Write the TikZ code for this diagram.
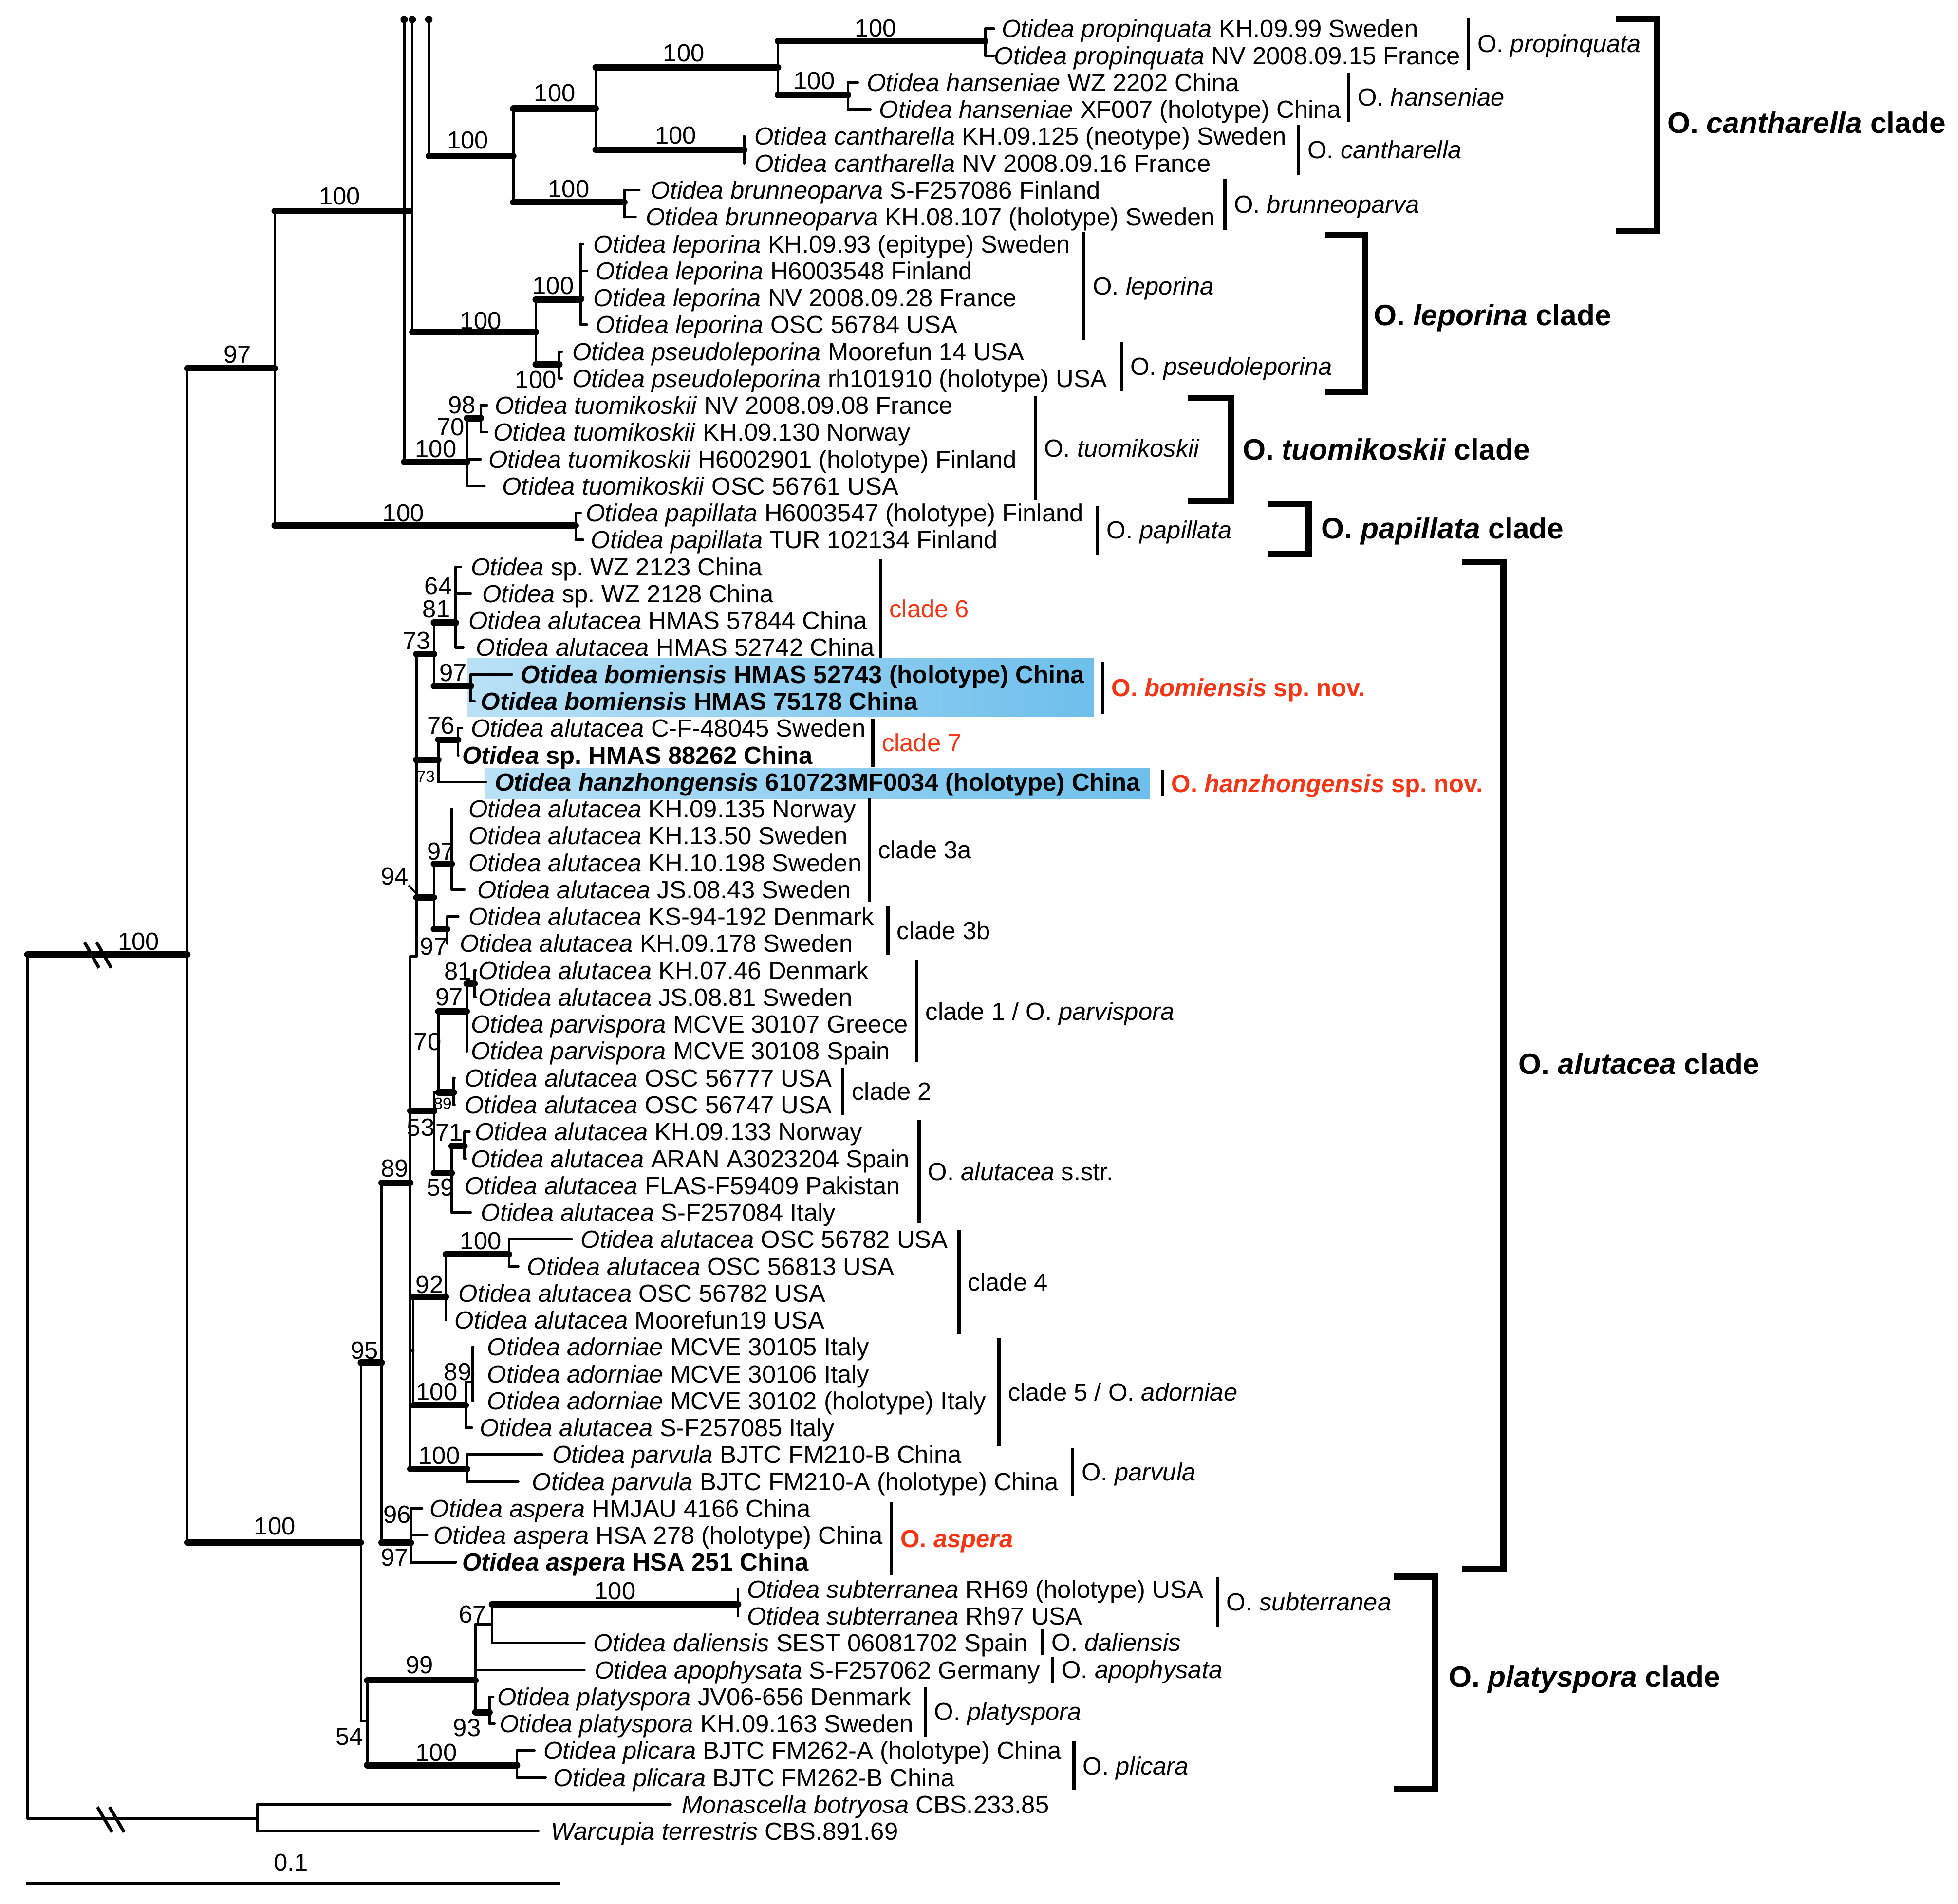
\documentclass[tikz,border=0pt]{standalone}
\usepackage{fontspec}
\setmainfont{Liberation Sans}
\usetikzlibrary{arrows.meta}
\definecolor{cred}{RGB}{248,52,18}
\definecolor{boxL}{RGB}{186,225,246}
\definecolor{boxR}{RGB}{110,191,236}
\newcommand\fs{\fontsize{19.8}{22}\selectfont}
\newcommand\fsb{\fontsize{23.6}{26}\selectfont}
\newcommand\fss{\fontsize{13}{15}\selectfont}
\newcommand\Ot[1]{\textit{Otidea #1}}
\newcommand\yy[1]{23+(#1-1)*21.55}
\newcommand\mkleaf[4]{\coordinate (L#1) at (#2,{\yy{#1}});
  \node[leaflab] (t#1) at (#3,{\yy{#1}+7}) {#4};}
\newcommand\edge[3][tb]{\draw[tb] (#2) -- (#2 |- #3); \draw[#1] (#2 |- #3) -- (#3);}
\newcommand\spbar[5]{\draw[sbar] (#1,#2) -- (#1,#3);
  \node[splab] (#4) at ({#1+7},{(#2+#3)/2+7}) {#5};}
\newcommand\cbr[8]{\draw[brk] (#1,#3) -- (#2,#3) -- (#2,#4) -- (#1,#4);
  \node[cladelab] (#5) at (#6,{#7+8.5}) {#8};}
\begin{document}
\frenchspacing
\begin{tikzpicture}[x=1pt,y=-1pt,
  tb/.style={line width=2pt, line cap=round},
  tk/.style={line width=5.2pt, line cap=round},
  sbar/.style={line width=2.6pt},
  brk/.style={line width=5pt, line join=miter},
  slash/.style={line width=2.6pt},
  leaflab/.style={anchor=base west, inner sep=0pt, font=\fs},
  supp/.style={anchor=center, inner sep=0pt, font=\fs},
  supps/.style={anchor=center, inner sep=0pt, font=\fss},
  splab/.style={anchor=base west, inner sep=0pt, font=\fs},
  cladelab/.style={anchor=base west, inner sep=0pt, font=\fsb\bfseries}]
\fill[white] (0,0) rectangle (1568,1525);
\useasboundingbox (0,0) rectangle (1568,1525);

% highlight boxes
\shade[left color=boxL, right color=boxR] (374,527) rectangle (876,574);
\shade[left color=boxL, right color=boxR] (388,615) rectangle (921,640);

% internal nodes
\coordinate (R) at (22,764.6);
\coordinate (ING) at (150,764.6);
\coordinate (OUT) at (206,1456.5);
\coordinate (A) at (220,295);
\coordinate (B) at (289,1235.5);
\coordinate (C) at (328,169);
\coordinate (Ca) at (323.7,15.6);
\coordinate (Cb) at (330.2,15.6);
\coordinate (Cc) at (343.4,15.6);
\coordinate (PAP) at (461,421);
\coordinate (CN1) at (411,125);
\coordinate (CN2) at (477,87);
\coordinate (CN3) at (623,54);
\coordinate (PRO) at (789,33);
\coordinate (HAN) at (679,76);
\coordinate (CAN) at (596,120);
\coordinate (BRU) at (500,162);
\coordinate (LEP) at (429,266);
\coordinate (LEPa) at (465,240);
\coordinate (PSE) at (448,292);
\coordinate (TUO) at (374,370);
\coordinate (T98) at (385,335);
\coordinate (N95) at (305.6,1091.5);
\coordinate (N54) at (294,1378.5);
\coordinate (BIG) at (328.6,947.5);
\coordinate (ASP) at (329,1235.7);
\coordinate (U) at (333.5,766);
\coordinate (N53) at (347.5,889.9);
\coordinate (N45) at (331,1082);
\coordinate (PAR) at (374,1176.6);
\coordinate (N73a) at (347.5,524);
\coordinate (N73b) at (351,608.7);
\coordinate (N94) at (347.5,718.8);
\coordinate (N81) at (365,498.8);
\coordinate (BOM) at (377,549.5);
\coordinate (N76) at (366.8,592.6);
\coordinate (C3a) at (361.7,692);
\coordinate (C3b) at (358,744.3);
\coordinate (N70) at (351,875);
\coordinate (C1) at (373.7,810);
\coordinate (C2) at (363.3,875);
\coordinate (N81b) at (380,788);
\coordinate (SSTR) at (361.7,939.7);
\coordinate (N71) at (372,918);
\coordinate (C4) at (357,1038.8);
\coordinate (C4a) at (407.6,1004.7);
\coordinate (C5) at (373,1125.6);
\coordinate (C5a) at (378.5,1106.7);
\coordinate (N99) at (380.7,1346);
\coordinate (PLI) at (414,1414);
\coordinate (N67) at (394,1301);
\coordinate (SUB) at (591,1285);
\coordinate (PLA) at (392,1371.5);
\coordinate (k94) at (333.5,716);

% leaves
\mkleaf{1}{796}{802}{\Ot{propinquata} KH.09.99 Sweden}
\mkleaf{2}{796}{796}{\Ot{propinquata} NV 2008.09.15 France}
\mkleaf{3}{687}{694}{\Ot{hanseniae} WZ 2202 China}
\mkleaf{4}{697}{704}{\Ot{hanseniae} XF007 (holotype) China}
\mkleaf{5}{596}{604}{\Ot{cantharella} KH.09.125 (neotype) Sweden}
\mkleaf{6}{596}{604}{\Ot{cantharella} NV 2008.09.16 France}
\mkleaf{7}{512}{521}{\Ot{brunneoparva} S-F257086 Finland}
\mkleaf{8}{509}{517}{\Ot{brunneoparva} KH.08.107 (holotype) Sweden}
\mkleaf{9}{467}{475}{\Ot{leporina} KH.09.93 (epitype) Sweden}
\mkleaf{10}{470}{477}{\Ot{leporina} H6003548 Finland}
\mkleaf{11}{467}{475}{\Ot{leporina} NV 2008.09.28 France}
\mkleaf{12}{470}{477}{\Ot{leporina} OSC 56784 USA}
\mkleaf{13}{450}{458}{\Ot{pseudoleporina} Moorefun 14 USA}
\mkleaf{14}{450}{458}{\Ot{pseudoleporina} rh101910 (holotype) USA}
\mkleaf{15}{390}{396}{\Ot{tuomikoskii} NV 2008.09.08 France}
\mkleaf{16}{390}{395}{\Ot{tuomikoskii} KH.09.130 Norway}
\mkleaf{17}{385}{391}{\Ot{tuomikoskii} H6002901 (holotype) Finland}
\mkleaf{18}{388}{402}{\Ot{tuomikoskii} OSC 56761 USA}
\mkleaf{19}{465}{469}{\Ot{papillata} H6003547 (holotype) Finland}
\mkleaf{20}{467}{473}{\Ot{papillata} TUR 102134 Finland}
\mkleaf{21}{369}{377}{\textit{Otidea} sp. WZ 2123 China}
\mkleaf{22}{377}{386}{\textit{Otidea} sp. WZ 2128 China}
\mkleaf{23}{365}{375}{\Ot{alutacea} HMAS 57844 China}
\mkleaf{24}{371}{381}{\Ot{alutacea} HMAS 52742 China}
\mkleaf{25}{410}{417}{\bfseries\Ot{bomiensis} HMAS 52743 (holotype) China}
\mkleaf{26}{380}{385}{\bfseries\Ot{bomiensis} HMAS 75178 China}
\mkleaf{27}{370}{377}{\Ot{alutacea} C-F-48045 Sweden}
\mkleaf{28}{367}{370}{\bfseries\textit{Otidea} sp. HMAS 88262 China}
\mkleaf{29}{389}{396}{\bfseries\Ot{hanzhongensis} 610723MF0034 (holotype) China}
\mkleaf{30}{362}{375}{\Ot{alutacea} KH.09.135 Norway}
\mkleaf{31}{362}{375}{\Ot{alutacea} KH.13.50 Sweden}
\mkleaf{32}{362}{375}{\Ot{alutacea} KH.10.198 Sweden}
\mkleaf{33}{372}{382}{\Ot{alutacea} JS.08.43 Sweden}
\mkleaf{34}{367}{375}{\Ot{alutacea} KS-94-192 Denmark}
\mkleaf{35}{358}{368}{\Ot{alutacea} KH.09.178 Sweden}
\mkleaf{36}{381}{383}{\Ot{alutacea} KH.07.46 Denmark}
\mkleaf{37}{381}{383}{\Ot{alutacea} JS.08.81 Sweden}
\mkleaf{38}{374}{377}{\Ot{parvispora} MCVE 30107 Greece}
\mkleaf{39}{374}{377}{\Ot{parvispora} MCVE 30108 Spain}
\mkleaf{40}{364}{372}{\Ot{alutacea} OSC 56777 USA}
\mkleaf{41}{364}{372}{\Ot{alutacea} OSC 56747 USA}
\mkleaf{42}{376}{380}{\Ot{alutacea} KH.09.133 Norway}
\mkleaf{43}{373}{377}{\Ot{alutacea} ARAN A3023204 Spain}
\mkleaf{44}{362}{372}{\Ot{alutacea} FLAS-F59409 Pakistan}
\mkleaf{45}{377}{385}{\Ot{alutacea} S-F257084 Italy}
\mkleaf{46}{458}{465}{\Ot{alutacea} OSC 56782 USA}
\mkleaf{47}{415}{422}{\Ot{alutacea} OSC 56813 USA}
\mkleaf{48}{357}{367}{\Ot{alutacea} OSC 56782 USA}
\mkleaf{49}{357}{364}{\Ot{alutacea} Moorefun19 USA}
\mkleaf{50}{379}{390}{\Ot{adorniae} MCVE 30105 Italy}
\mkleaf{51}{379}{390}{\Ot{adorniae} MCVE 30106 Italy}
\mkleaf{52}{379}{390}{\Ot{adorniae} MCVE 30102 (holotype) Italy}
\mkleaf{53}{378}{384}{\Ot{alutacea} S-F257085 Italy}
\mkleaf{54}{434}{442}{\Ot{parvula} BJTC FM210-B China}
\mkleaf{55}{415}{426}{\Ot{parvula} BJTC FM210-A (holotype) China}
\mkleaf{56}{338}{344}{\Ot{aspera} HMJAU 4166 China}
\mkleaf{57}{342}{347}{\Ot{aspera} HSA 278 (holotype) China}
\mkleaf{58}{365}{370}{\bfseries\Ot{aspera} HSA 251 China}
\mkleaf{59}{591}{598}{\Ot{subterranea} RH69 (holotype) USA}
\mkleaf{60}{591}{598}{\Ot{subterranea} Rh97 USA}
\mkleaf{61}{468}{475}{\Ot{daliensis} SEST 06081702 Spain}
\mkleaf{62}{468}{476}{\Ot{apophysata} S-F257062 Germany}
\mkleaf{63}{395}{398}{\Ot{platyspora} JV06-656 Denmark}
\mkleaf{64}{396}{400}{\Ot{platyspora} KH.09.163 Sweden}
\mkleaf{65}{428}{435}{\Ot{plicara} BJTC FM262-A (holotype) China}
\mkleaf{66}{437}{443}{\Ot{plicara} BJTC FM262-B China}
\mkleaf{67}{537}{546}{\textit{Monascella botryosa} CBS.233.85}
\mkleaf{68}{431}{441}{\textit{Warcupia terrestris} CBS.891.69}

% branches
\edge[tk]{R}{ING} \edge{R}{OUT}
\edge[tk]{ING}{A} \edge[tk]{ING}{B}
\edge[tk]{A}{C} \edge[tk]{A}{PAP}
\edge[tk]{Ca}{TUO} \edge[tk]{Cb}{LEP} \edge[tk]{Cc}{CN1}
\fill (Ca) circle (3pt); \fill (Cb) circle (3pt); \fill (Cc) circle (3pt);
\edge[tk]{CN1}{CN2} \edge[tk]{CN1}{BRU}
\edge[tk]{CN2}{CN3} \edge[tk]{CN2}{CAN}
\edge[tk]{CN3}{PRO} \edge[tk]{CN3}{HAN}
\edge{PRO}{L1} \edge{PRO}{L2} \edge{HAN}{L3} \edge{HAN}{L4}
\edge{CAN}{L5} \edge{CAN}{L6} \edge{BRU}{L7} \edge{BRU}{L8}
\edge[tk]{LEP}{LEPa} \edge[tk]{LEP}{PSE}
\edge{LEPa}{L9} \edge{LEPa}{L10} \edge{LEPa}{L11} \edge{LEPa}{L12}
\edge{PSE}{L13} \edge{PSE}{L14}
\edge[tk]{TUO}{T98} \edge{TUO}{L17} \edge{TUO}{L18}
\edge{T98}{L15} \edge{T98}{L16}
\edge{PAP}{L19} \edge{PAP}{L20}
\edge[tk]{B}{N95} \edge{B}{N54}
\edge[tk]{N95}{BIG} \edge[tk]{N95}{ASP}
\edge{BIG}{U} \edge[tk]{BIG}{N53} \edge{BIG}{N45} \edge[tk]{BIG}{PAR}
\edge[tk]{U}{N73a} \edge[tk]{U}{N73b} \edge[tk]{U}{N94}
\edge[tk]{N73a}{N81} \edge[tk]{N73a}{BOM}
\edge{N81}{L21} \edge{N81}{L22} \edge{N81}{L23} \edge{N81}{L24}
\edge{BOM}{L25} \edge{BOM}{L26}
\edge[tk]{N73b}{N76} \edge{N73b}{L29}
\edge{N76}{L27} \edge{N76}{L28}
\edge[tk]{N94}{C3a} \edge[tk]{N94}{C3b}
\edge{C3a}{L30} \edge{C3a}{L31} \edge{C3a}{L32} \edge{C3a}{L33}
\edge{C3b}{L34} \edge{C3b}{L35}
\edge{N53}{N70} \edge[tk]{N53}{SSTR}
\edge[tk]{N70}{C1} \edge[tk]{N70}{C2}
\edge[tk]{C1}{N81b} \edge{C1}{L38} \edge{C1}{L39}
\edge{N81b}{L36} \edge{N81b}{L37}
\edge{C2}{L40} \edge{C2}{L41}
\edge[tk]{SSTR}{N71} \edge{SSTR}{L44} \edge{SSTR}{L45}
\edge{N71}{L42} \edge{N71}{L43}
\edge[tk]{N45}{C4} \edge[tk]{N45}{C5}
\edge[tk]{C4}{C4a} \edge{C4}{L48} \edge{C4}{L49}
\edge{C4a}{L46} \edge{C4a}{L47}
\edge{C5}{C5a} \edge{C5}{L53}
\edge{C5a}{L50} \edge{C5a}{L51} \edge{C5a}{L52}
\edge{PAR}{L54} \edge{PAR}{L55}
\edge{ASP}{L56} \edge{ASP}{L57} \edge{ASP}{L58}
\edge[tk]{N54}{N99} \edge[tk]{N54}{PLI}
\edge{N99}{N67} \edge{N99}{L62} \edge[tk]{N99}{PLA}
\edge[tk]{N67}{SUB} \edge{N67}{L61}
\edge{SUB}{L59} \edge{SUB}{L60}
\edge{PLA}{L63} \edge{PLA}{L64}
\edge{PLI}{L65} \edge{PLI}{L66}
\edge{OUT}{L67} \edge{OUT}{L68}

% break marks
\draw[slash] (67.6,754.6) -- (79.3,775.3);
\draw[slash] (77.3,754.6) -- (89,775.3);
\draw[slash] (78,1447.4) -- (89.7,1467.5);
\draw[slash] (87.7,1447.4) -- (99.4,1467.5);

% scale bar
\coordinate (sb1) at (21,1508.6);
\coordinate (sb2) at (449,1508.6);
\draw[tb, line cap=butt] (sb1) -- (sb2);
\node[supp] (s0) at (233,1492) {0.1};

% support values
\node[supp] (s1) at (111,754) {100};
\node[supp] (s2) at (190,284) {97};
\node[supp] (s3) at (272,157) {100};
\node[supp] (s4) at (323,410.9) {100};
\node[supp] (s5) at (374.6,112.5) {100};
\node[supp] (s6) at (444.2,74.4) {100};
\node[supp] (s7) at (455.5,151.3) {100};
\node[supp] (s8) at (547.6,42.7) {100};
\node[supp] (s9) at (541.1,108.6) {100};
\node[supp] (s10) at (701.2,22.6) {100};
\node[supp] (s11) at (652,64.7) {100};
\node[supp] (s12) at (385,257) {100};
\node[supp] (s13) at (443,229) {100};
\node[supp] (s14) at (429,304) {100};
\node[supp] (s15) at (370,324.6) {98};
\node[supp] (s16) at (361,341.8) {70};
\node[supp] (s17) at (349,359.6) {100};
\node[supp] (s18) at (351,469.5) {64};
\node[supp] (s19) at (349.4,488) {81};
\node[supp] (s20) at (333.7,513) {73};
\node[supp] (s21) at (363,539) {97};
\node[supp] (s22) at (353,581) {76};
\node[supps] (s23) at (341,622) {73};
\node[supp] (s94) at (316,702) {94};
\draw[line width=1.5pt] (s94.south east) -- (k94);
\node[supp] (s25) at (353,682) {97};
\node[supp] (s26) at (347.5,758) {97};
\node[supp] (s27) at (366.8,777.8) {81};
\node[supp] (s28) at (359.8,798.7) {97};
\node[supp] (s29) at (342.4,834.6) {70};
\node[supps] (s30) at (354.5,884) {89};
\node[supp] (s31) at (337,903) {53};
\node[supp] (s32) at (359.8,907) {71};
\node[supp] (s33) at (352.8,951) {59};
\node[supp] (s34) at (316,936) {89};
\node[supp] (s35) at (292,1081.8) {95};
\node[supp] (s36) at (385,994) {100};
\node[supp] (s37) at (344,1029) {92};
\node[supp] (s38) at (366.6,1098.7) {89};
\node[supp] (s39) at (349.8,1115) {100};
\node[supp] (s40) at (351.7,1166) {100};
\node[supp] (s41) at (318,1213) {96};
\node[supp] (s42) at (316,1247.4) {97};
\node[supp] (s43) at (220,1222.5) {100};
\node[supp] (s44) at (492.5,1274.4) {100};
\node[supp] (s45) at (378.5,1293) {67};
\node[supp] (s46) at (336,1333.6) {99};
\node[supp] (s47) at (374,1384) {93};
\node[supp] (s48) at (279.8,1391) {54};
\node[supp] (s49) at (349.4,1404) {100};

% species bars
\spbar{1176}{14}{56}{b1}{O. \textit{propinquata}}
\spbar{1080}{58}{98}{b2}{O. \textit{hanseniae}}
\spbar{1040}{100}{140}{b3}{O. \textit{cantharella}}
\spbar{981}{143}{184}{b4}{O. \textit{brunneoparva}}
\spbar{868}{186}{272}{b5}{O. \textit{leporina}}
\spbar{898}{274}{313}{b6}{O. \textit{pseudoleporina}}
\spbar{829}{317}{401}{b7}{O. \textit{tuomikoskii}}
\spbar{879}{405}{444}{b8}{O. \textit{papillata}}
\spbar{705}{448}{527}{b9}{\color{cred}clade 6}
\spbar{883}{530}{572}{b10}{\color{cred}\bfseries O. \textit{bomiensis} sp. nov.}
\spbar{699}{576}{614}{b11}{\color{cred}clade 7}
\spbar{931}{617}{638}{b12}{\color{cred}\bfseries O. \textit{hanzhongensis} sp. nov.}
\spbar{696}{639}{722}{b13}{clade 3a}
\spbar{711}{726}{765}{b14}{clade 3b}
\spbar{734}{769}{851}{b15}{clade 1 / O. \textit{parvispora}}
\spbar{675}{855}{893}{b16}{clade 2}
\spbar{736}{897}{980}{b17}{O. \textit{alutacea} s.str.}
\spbar{768}{985}{1069}{b18}{clade 4}
\spbar{800}{1072}{1158}{b19}{clade 5 / O. \textit{adorniae}}
\spbar{859}{1160}{1198}{b20}{O. \textit{parvula}}
\spbar{714}{1203}{1262}{b21}{\color{cred}\bfseries O. \textit{aspera}}
\spbar{975}{1263}{1303}{b22}{O. \textit{subterranea}}
\spbar{835}{1305}{1326}{b23}{O. \textit{daliensis}}
\spbar{843}{1327}{1348}{b24}{O. \textit{apophysata}}
\spbar{741}{1351}{1391}{b25}{O. \textit{platyspora}}
\spbar{860}{1395}{1434}{b26}{O. \textit{plicara}}

% clade brackets
\cbr{1294}{1327}{15}{185}{g1}{1335}{98}{O. \textit{cantharella} clade}
\cbr{1061}{1093}{188}{314}{g2}{1100}{252}{O. \textit{leporina} clade}
\cbr{951}{986}{319}{401}{g3}{995}{360}{O. \textit{tuomikoskii} clade}
\cbr{1015}{1048}{404}{444}{g4}{1058}{423}{O. \textit{papillata} clade}
\cbr{1171}{1204}{450}{1257}{g5}{1216}{852}{O. \textit{alutacea} clade}
\cbr{1116}{1149}{1263}{1433}{g6}{1160}{1343}{O. \textit{platyspora} clade}
\end{tikzpicture}
\end{document}
